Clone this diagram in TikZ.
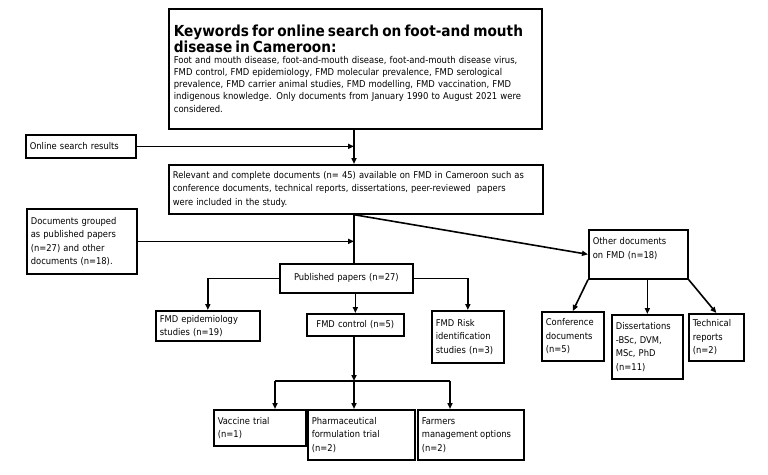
\documentclass[tikz,border=0pt]{standalone}
\usepackage{fontspec}
\setmainfont{DejaVu Sans Condensed}
\usetikzlibrary{arrows.meta,calc}
\begin{document}
\begin{tikzpicture}[x=1pt,y=-1pt,
  box/.style={draw,line width=1.7pt,anchor=north west,align=left,inner xsep=4pt,inner ysep=2pt,font=\fontsize{9.3}{13.5}\selectfont},
  conn/.style={line width=1.6pt},
  arr/.style={conn,-{Triangle[length=6pt,width=5pt]}}]
\useasboundingbox (0,0) rectangle (768,474);
% boxes
\node[box,text width=363pt,minimum height=120pt,inner xsep=5pt] (top) at (168,8)
 {{\fontsize{15.2}{20}\bfseries Keywords for online search on foot-and mouth\\disease in Cameroon:}\\[-1pt]
  {\fontsize{9.4}{12}\selectfont Foot and mouth disease, foot-and-mouth disease, foot-and-mouth disease virus,\\
  FMD control, FMD epidemiology, FMD molecular prevalence, FMD serological\\
  prevalence, FMD carrier animal studies, FMD modelling, FMD vaccination, FMD\\
  indigenous knowledge. Only documents from January 1990 to August 2021 were\\
  considered.}};
\node[box,text width=102pt,minimum height=23pt] (online) at (25,134) {Online search results};
\node[box,text width=366pt,minimum height=49pt] (rel) at (168,164)
 {Relevant and complete documents (n= 45) available on FMD in Cameroon such as\\
  conference documents, technical reports, dissertations, peer-reviewed\ \ papers\\
  were included in the study.};
\node[box,text width=102pt,minimum height=65pt] (docs) at (26,208)
 {Documents grouped\\as published papers\\(n=27) and other\\documents (n=18).};
\node[box,text width=91pt,minimum height=49pt,text depth=26pt] (other) at (588,229)
 {Other documents\\on FMD (n=18)};
\node[box,text width=125pt,minimum height=29pt,align=center] (pub) at (279,263) {Published papers (n=27)};
\node[box,text width=96pt,minimum height=30pt] (epi) at (155,310) {FMD epidemiology\\studies (n=19)};
\node[box,text width=89pt,minimum height=22pt,align=center] (control) at (306,313) {FMD control (n=5)};
\node[box,text width=64pt,minimum height=52pt] (risk) at (431,310) {FMD Risk\\identification\\studies (n=3)};
\node[box,text width=54pt,minimum height=49pt] (conf) at (541,311) {Conference\\documents\\(n=5)};
\node[box,text width=63pt,minimum height=64pt] (diss) at (611,314) {Dissertations\\-BSc, DVM,\\MSc, PhD\\(n=11)};
\node[box,text width=47pt,minimum height=47pt] (tech) at (688,313) {Technical\\reports\\(n=2)};
\node[box,text width=84pt,minimum height=36pt] (vac) at (213,409) {Vaccine trial\\(n=1)};
\node[box,text width=99pt,minimum height=50pt] (pharma) at (307,409) {Pharmaceutical\\formulation trial\\(n=2)};
\node[box,text width=98pt,minimum height=50pt] (farm) at (417,409) {Farmers\\management\hspace{0.25em}options\\(n=2)};
% connectors
\coordinate (vx) at (354,0);
\draw[arr] (top.south -| vx) -- (rel.north -| vx);
\draw[arr] (online.east) -- (online.east -| vx);
\draw[conn] (rel.south -| vx) -- (pub.north -| vx);
\draw[arr] (docs.east) -- (docs.east -| vx);
\draw[arr] (rel.south -| vx) -- (other.west);
\draw[arr] (pub.west) -| (epi.north);
\draw[arr] (pub.east) -| (risk.north);
\draw[arr] (pub.south -| control.north) -- (control.north);
\coordinate (bar) at (354,381);
\coordinate (b1) at (275,381);
\coordinate (b3) at (450,381);
\draw[arr] (control.south -| bar) -- (bar);
\draw[conn] (b1) -- (b3);
\draw[arr] (b1) -- (b1 |- vac.north);
\draw[arr] (bar) -- (bar |- pharma.north);
\draw[arr] (b3) -- (b3 |- farm.north);
\draw[arr] (other.south west) -- (conf.north);
\draw[arr] (other.south -| diss.north) -- (diss.north);
\draw[arr] (other.south east) -- (tech.north);
\end{tikzpicture}
\end{document}
